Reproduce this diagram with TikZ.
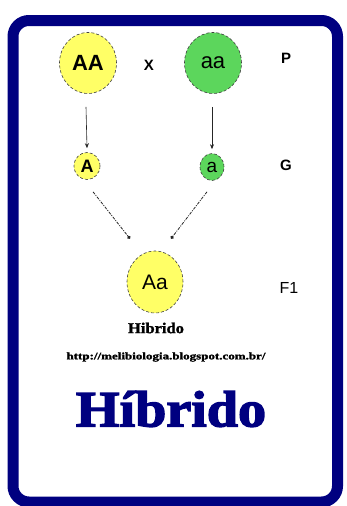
\documentclass[tikz,border=0pt]{standalone}
\usepackage{fontspec}
\setmainfont{Liberation Serif}
\setsansfont{Liberation Sans}
\newfontfamily\fatface[FakeBold=2.5]{Liberation Serif Bold}
\newfontfamily\fatsmall[FakeBold=1.5]{Liberation Serif Bold}
\usetikzlibrary{arrows.meta,calc,shapes.geometric}
\definecolor{navy}{RGB}{0,0,128}
\definecolor{yel}{RGB}{255,255,102}
\definecolor{grn}{RGB}{92,214,92}
\tikzset{
  cell/.style={ellipse, draw=black!75, densely dashed, line width=0.6pt, inner sep=0pt, font=\sffamily},
  gen/.style={font=\sffamily\bfseries\fontsize{15}{15}\selectfont, inner sep=0pt},
  solidarrow/.style={-{Stealth[length=5pt,width=4pt]}, line width=0.6pt, black!85},
  dasharrow/.style={-{Circle[length=3.5pt]}, line width=0.8pt, black!85, dash pattern=on 3pt off 1.2pt on 1pt off 1.2pt},
}
\begin{document}
\begin{tikzpicture}[x=1pt,y=-1pt]
\useasboundingbox (0,0) rectangle (346,506);
\begin{scope}
\clip (0,0) rectangle (346,506);
\draw[navy, line width=11pt, rounded corners=16pt] (13,20.5) rectangle (337.5,502);
\end{scope}
% parents
\node[cell, fill=yel, minimum width=57pt, minimum height=61pt, font=\sffamily\bfseries\fontsize{22}{22}\selectfont] (AA) at (88,63) {AA};
\node[cell, fill=grn, minimum width=57pt, minimum height=61pt, font=\sffamily\fontsize{22}{22}\selectfont] (aa) at (213,63) {aa};
\node[gen] (x) at (149,65) {X};
\node[gen] (P) at (286,58) {P};
% gametes
\node[cell, fill=yel, minimum width=26pt, minimum height=27pt, font=\sffamily\bfseries\fontsize{18}{18}\selectfont] (A) at (87,166) {A};
\node[cell, fill=grn, minimum width=24pt, minimum height=27pt, font=\sffamily\fontsize{19}{19}\selectfont] (a) at (212,167) {a};
\node[gen] (G) at (286,165) {G};
% offspring
\node[cell, fill=yel, minimum width=56pt, minimum height=62pt, font=\sffamily\fontsize{21}{21}\selectfont] (Aa) at (155,282) {Aa};
\node[font=\sffamily\fontsize{16}{16}\selectfont, inner sep=0pt] (F1) at (289,288) {F1};
% arrows
\draw[solidarrow] ($(AA.south)+(-2,13)$) -- ($(A.north)+(0,-4)$);
\draw[solidarrow] ($(aa.south)+(-1,13)$) -- ($(a.north)+(0,-4)$);
\coordinate (e1) at ($(Aa.north)+(-25,-12)$);
\coordinate (e2) at ($(Aa.north)+(16,-12)$);
\draw[dasharrow] ($(A.south)+(6,12)$) -- (e1);
\draw[dasharrow] ($(a.south)+(-5,11)$) -- (e2);
% texts
\node[inner sep=0pt] (hsmall) at (156,328) {\scalebox{1.1}[1]{\fatsmall\fontsize{15}{15}\selectfont Hibrido}};
\node[inner sep=0pt] (url) at (166,357) {\scalebox{1.3}[1]{\fatsmall\fontsize{10}{10}\selectfont http://melibiologia.blogspot.com.br/}};
\node[inner sep=0pt, text=navy] (hbig) at (171,409) {\scalebox{1.1}[1]{\fatface\fontsize{51}{51}\selectfont Híbrido}};
\end{tikzpicture}
\end{document}
